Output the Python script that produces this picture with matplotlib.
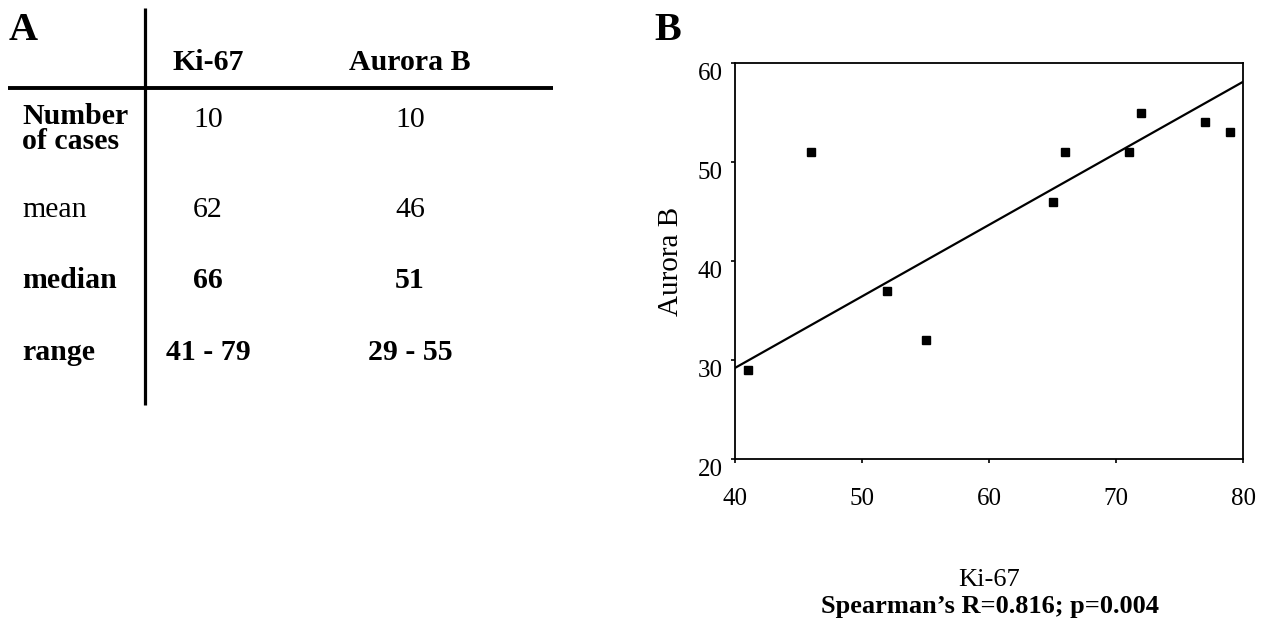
import numpy as np
import matplotlib.pyplot as plt
import matplotlib.transforms as mtransforms

plt.rcParams['font.family'] = ['Liberation Serif', 'DejaVu Serif']

# panel A: summary table
col_names = ["Ki-67", "Aurora B"]
row_names = ["Number\nof cases", "mean", "median", "range"]
name_bold = [True, False, True, True]
value_bold = [False, False, True, True]
ki67_stats = ["10", "62", "66", "41 - 79"]
aurora_stats = ["10", "46", "51", "29 - 55"]

# panel B: scatter values
ki67 = [41, 46, 52, 55, 65, 66, 71, 72, 77, 79]
aurora = [29, 51, 37, 32, 46, 51, 51, 55, 54, 53]
fit_x = [40, 80]
fit_y = [29.2, 58.1]

W, H = 1264, 623
fig = plt.figure(figsize=(W / 100, H / 100), dpi=100)

# overlay in pixel coords for the table
tab = fig.add_axes([0, 0, 1, 1])
tab.set_xlim(0, W)
tab.set_ylim(H, 0)
tab.axis("off")

tab.text(9, 30, "A", fontsize=29, fontweight="bold", va="center", ha="left")
tab.text(668, 30, "B", fontsize=29, fontweight="bold", va="center", ha="center")

tab.plot([145, 145], [8, 405], color="black", lw=2.3, solid_capstyle="butt")
tab.plot([8, 553], [88, 88], color="black", lw=2.8, solid_capstyle="butt")

col_x = [208, 410]
for cx, name in zip(col_x, col_names):
    tab.text(cx, 62, name, fontsize=21.5, fontweight="bold", ha="center", va="center")

row_y = [129, 210, 280, 353]
for i, (ry, name) in enumerate(zip(row_y, row_names)):
    nw = "bold" if name_bold[i] else "normal"
    vw = "bold" if value_bold[i] else "normal"
    tab.text(22, ry, name, fontsize=21.5, fontweight=nw, ha="left", va="center",
             linespacing=0.92)
    vy = 120 if i == 0 else ry
    tab.text(col_x[0], vy, ki67_stats[i], fontsize=21.5, fontweight=vw,
             ha="center", va="center")
    tab.text(col_x[1], vy, aurora_stats[i], fontsize=21.5, fontweight=vw,
             ha="center", va="center")

# scatter panel
left, right, top, bottom = 735, 1243, 63, 459
ax = fig.add_axes([left / W, 1 - bottom / H, (right - left) / W, (bottom - top) / H])
ax.plot(ki67, aurora, "s", color="black", ms=6)
ax.plot(fit_x, fit_y, color="black", lw=1.6)
ax.set_xlim(40, 80)
ax.set_ylim(20, 60)
ax.set_xticks([40, 50, 60, 70, 80])
ax.set_yticks([20, 30, 40, 50, 60])
ax.tick_params(direction="out", length=3, width=1.2, labelsize=18)
ax.tick_params(axis="x", pad=18)
ax.tick_params(axis="y", pad=6)
shift = mtransforms.ScaledTranslation(0, -6 / 72, fig.dpi_scale_trans)
for lab in ax.get_yticklabels():
    lab.set_transform(lab.get_transform() + shift)
for s in ax.spines.values():
    s.set_linewidth(1.3)
ax.set_ylabel("Aurora B", fontsize=21, labelpad=10)
ax.set_xlabel("Ki-67", fontsize=19, labelpad=42)

fig.text(990 / W, 1 - 607 / H, "Spearman\u2019s R=0.816; p=0.004", fontsize=19,
         fontweight="bold", ha="center", va="center")

fig.savefig("out.png", dpi=100)
